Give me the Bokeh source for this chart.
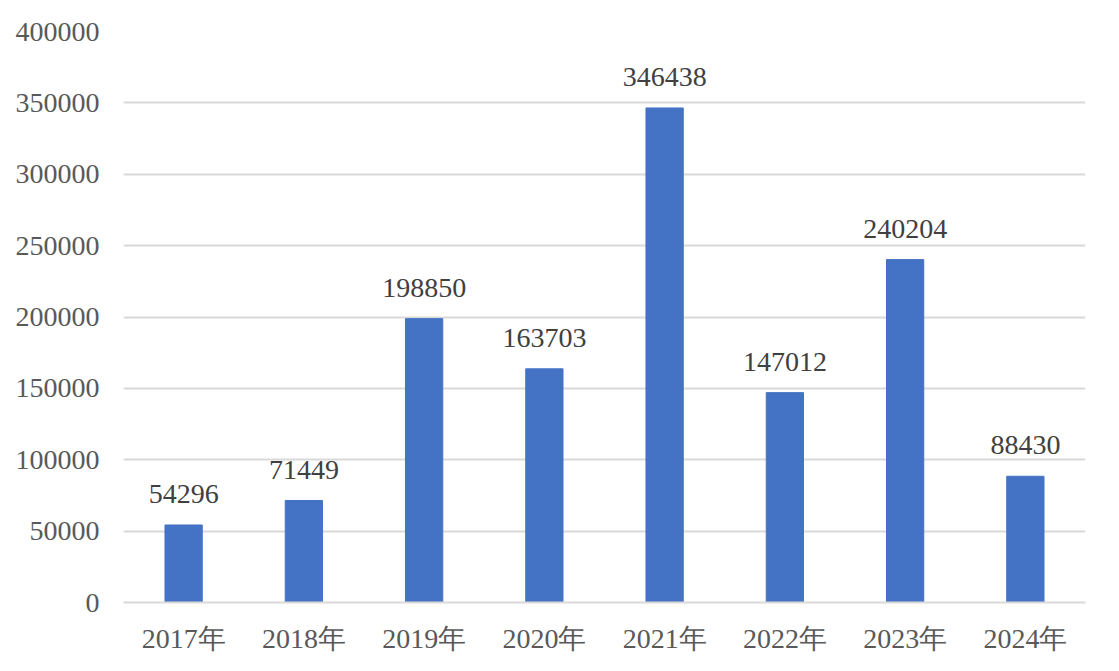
from bokeh.plotting import figure
from bokeh.models import Range1d, ColumnDataSource, LabelSet, BasicTickFormatter
from bokeh.embed import file_html
from bokeh.resources import INLINE

years = ["2017年", "2018年", "2019年", "2020年", "2021年", "2022年", "2023年", "2024年"]
counts = [54296, 71449, 198850, 163703, 346438, 147012, 240204, 88430]
y_ticks = [0, 50000, 100000, 150000, 200000, 250000, 300000, 350000, 400000]

FONT = "Liberation Serif"

src = ColumnDataSource(dict(x=years, top=counts, lab=[str(c) for c in counts]))

p = figure(x_range=years, y_range=Range1d(0, 400000), width=1119, height=671,
           output_backend="svg", toolbar_location=None)
p.min_border_left = 123
p.min_border_right = 34
p.min_border_top = 31
p.min_border_bottom = 69
p.outline_line_color = None

p.vbar(x="x", top="top", width=0.31, source=src, color="#4472C4")

labels = LabelSet(x="x", y="top", text="lab", source=src, text_align="center",
                  text_baseline="bottom", y_offset=22, text_font=FONT,
                  text_font_size="28px", text_color="#404040")
p.add_layout(labels)

p.yaxis.ticker = y_ticks
p.yaxis.formatter = BasicTickFormatter(use_scientific=False)
p.yaxis.axis_line_color = None
p.yaxis.major_tick_line_color = None
p.yaxis.minor_tick_line_color = None
p.yaxis.major_label_text_font = FONT
p.yaxis.major_label_text_font_size = "28px"
p.yaxis.major_label_text_color = "#595959"
p.yaxis.major_label_standoff = 18

p.xaxis.axis_line_color = "#d9d9d9"
p.xaxis.axis_line_width = 2
p.xaxis.major_tick_line_color = None
p.xaxis.minor_tick_line_color = None
p.xaxis.major_label_text_font = FONT
p.xaxis.major_label_text_font_size = "28px"
p.xaxis.major_label_text_color = "#595959"
p.xaxis.major_label_standoff = 14

p.xgrid.grid_line_color = None
p.ygrid.grid_line_color = "#d9d9d9"
p.ygrid.grid_line_width = 2

open("out.html", "w").write(file_html(p, INLINE))
